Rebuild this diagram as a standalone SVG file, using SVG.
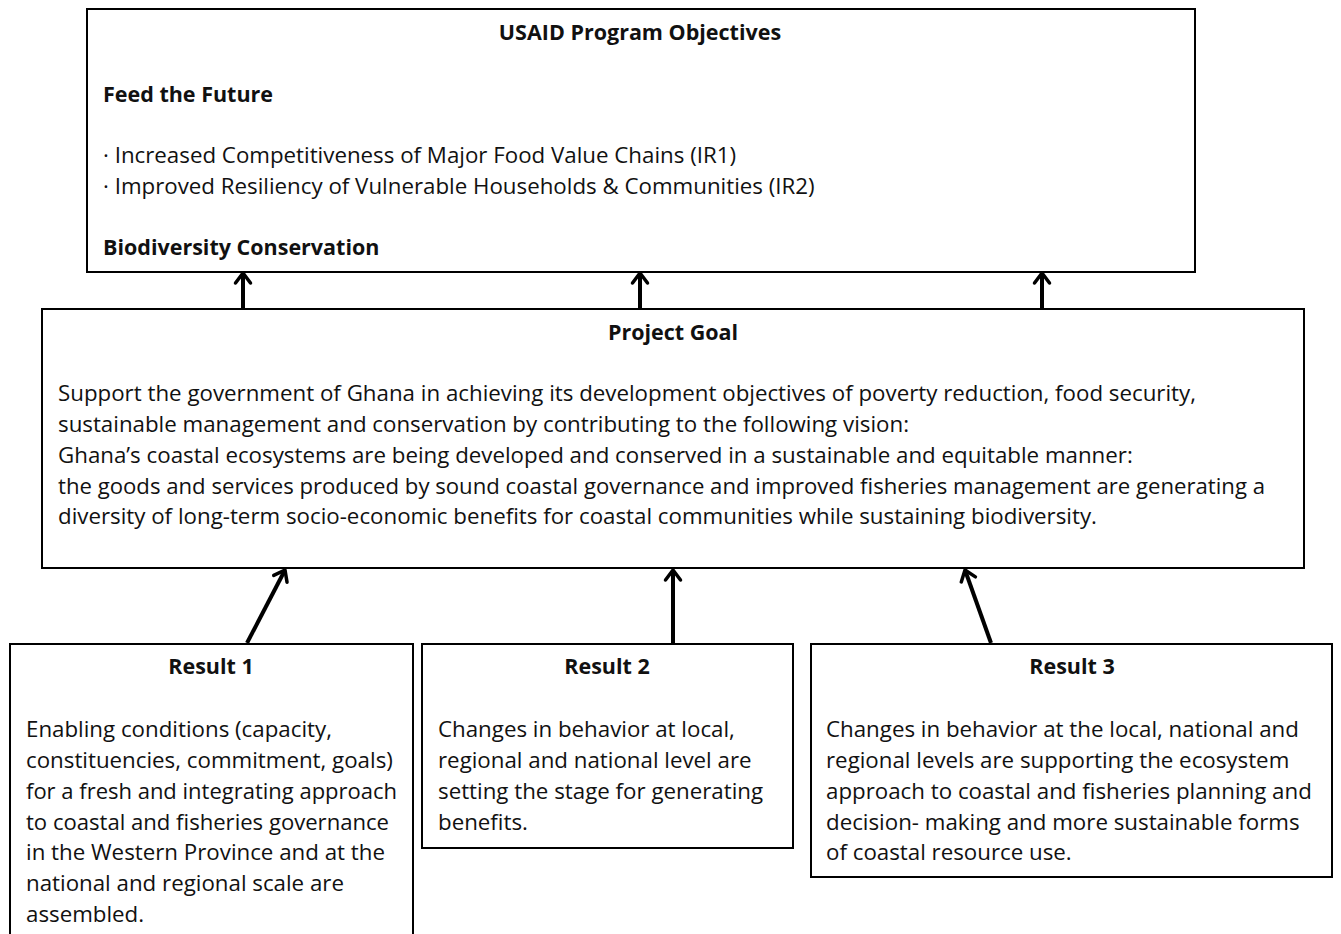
<svg xmlns="http://www.w3.org/2000/svg" width="1341" height="934" viewBox="0 0 1341 934">
<defs>
<marker id="ah" viewBox="0 0 20 20" refX="17" refY="10" markerWidth="20" markerHeight="20" markerUnits="userSpaceOnUse" orient="auto">
<path d="M7,2.5 L17,10 L7,17.5" fill="none" stroke="#000" stroke-width="3.5" stroke-linecap="round" stroke-linejoin="round"/>
</marker>
<style>
.box{fill:#fff;stroke:#000;stroke-width:2}
.t{font-family:"Open Sans","Noto Sans",sans-serif;font-size:22.3px;fill:#111;font-variant-ligatures:none}
.b{font-weight:bold;font-size:21.5px}
.c{text-anchor:middle}
.arr{stroke:#000;stroke-width:4;fill:none}
</style>
</defs>
<rect width="1341" height="934" fill="#fff"/>
<g id="usaid">
<rect class="box" x="87" y="9" width="1108" height="263"/>
<text class="t b c" x="640" y="40">USAID Program Objectives</text>
<text class="t b" x="103" y="102">Feed the Future</text>
<text class="t" x="103" y="163">· Increased Competitiveness of Major Food Value Chains (IR1)</text>
<text class="t" x="103" y="194">· Improved Resiliency of Vulnerable Households &amp; Communities (IR2)</text>
<text class="t b" x="103" y="255">Biodiversity Conservation</text>
</g>
<g id="goal">
<rect class="box" x="42" y="309" width="1262" height="259"/>
<text class="t b c" x="673" y="340">Project Goal</text>
<text class="t" x="58" y="401" textLength="1138" lengthAdjust="spacingAndGlyphs">Support the government of Ghana in achieving its development objectives of poverty reduction, food security,</text>
<text class="t" x="58" y="432">sustainable management and conservation by contributing to the following vision:</text>
<text class="t" x="58" y="463">Ghana’s coastal ecosystems are being developed and conserved in a sustainable and equitable manner:</text>
<text class="t" x="58" y="494" textLength="1207" lengthAdjust="spacingAndGlyphs">the goods and services produced by sound coastal governance and improved fisheries management are generating a</text>
<text class="t" x="58" y="524">diversity of long-term socio-economic benefits for coastal communities while sustaining biodiversity.</text>
</g>
<g id="result1">
<rect class="box" x="10" y="644" width="403" height="300"/>
<text class="t b c" x="211" y="674">Result 1</text>
<text class="t" x="26" y="737">Enabling conditions (capacity,</text>
<text class="t" x="26" y="768">constituencies, commitment, goals)</text>
<text class="t" x="26" y="799" textLength="371" lengthAdjust="spacingAndGlyphs">for a fresh and integrating approach</text>
<text class="t" x="26" y="830" textLength="363" lengthAdjust="spacingAndGlyphs">to coastal and fisheries governance</text>
<text class="t" x="26" y="860">in the Western Province and at the</text>
<text class="t" x="26" y="891">national and regional scale are</text>
<text class="t" x="26" y="922">assembled.</text>
</g>
<g id="result2">
<rect class="box" x="422" y="644" width="371" height="204"/>
<text class="t b c" x="607" y="674">Result 2</text>
<text class="t" x="438" y="737">Changes in behavior at local,</text>
<text class="t" x="438" y="768">regional and national level are</text>
<text class="t" x="438" y="799">setting the stage for generating</text>
<text class="t" x="438" y="830">benefits.</text>
</g>
<g id="result3">
<rect class="box" x="811" y="644" width="521" height="233"/>
<text class="t b c" x="1072" y="674">Result 3</text>
<text class="t" x="826" y="737">Changes in behavior at the local, national and</text>
<text class="t" x="826" y="768">regional levels are supporting the ecosystem</text>
<text class="t" x="826" y="799">approach to coastal and fisheries planning and</text>
<text class="t" x="826" y="830">decision- making and more sustainable forms</text>
<text class="t" x="826" y="860">of coastal resource use.</text>
</g>
<g id="connectors">
<line class="arr" x1="243" y1="308" x2="243" y2="273" marker-end="url(#ah)"/>
<line class="arr" x1="640" y1="308" x2="640" y2="273" marker-end="url(#ah)"/>
<line class="arr" x1="1042" y1="308" x2="1042" y2="273" marker-end="url(#ah)"/>
<line class="arr" x1="247" y1="643" x2="285" y2="570" marker-end="url(#ah)"/>
<line class="arr" x1="673" y1="643" x2="673" y2="570" marker-end="url(#ah)"/>
<line class="arr" x1="991" y1="643" x2="965" y2="570" marker-end="url(#ah)"/>
</g>
</svg>
